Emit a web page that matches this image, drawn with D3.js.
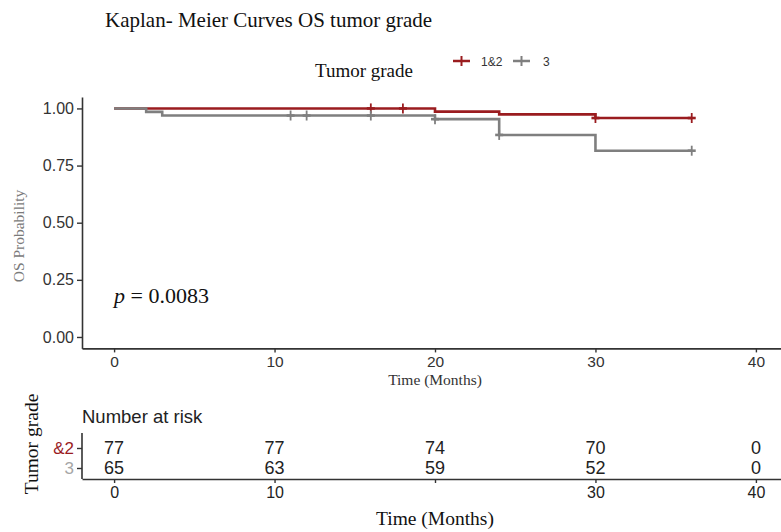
<!DOCTYPE html>
<html>
<head>
<meta charset="utf-8">
<script src="https://cdn.jsdelivr.net/npm/d3@7"></script>
<style>
  html, body { margin: 0; padding: 0; background: #fff; }
  svg { display: block; }
</style>
</head>
<body>
<svg id="chart" width="781" height="532"></svg>
<script>
// ---------------- data ----------------
const strata = ["1&2", "3"];
const strataColors = ["#9a1c1f", "#7f7f7f"];
// step curve: times of steps and survival after the step
const timesA = [0, 20, 24, 30, 36];
const survA  = [1, 0.986, 0.974, 0.958, 0.958];
const censorTimesA = [16, 18, 30, 36];
const timesB = [0, 2, 3, 20, 24, 30, 36];
const survB  = [1, 0.985, 0.969, 0.953, 0.884, 0.815, 0.815];
const censorTimesB = [11, 12, 16, 20, 24, 36];
const xTicks = [0, 10, 20, 30, 40];
const yTicks = [0, 0.25, 0.5, 0.75, 1];
const riskA = [77, 77, 74, 70, 0];
const riskB = [65, 63, 59, 52, 0];
const riskTickLabels = ["0", "10", "", "30", "40"];
const pText = "0.0083";

const svg = d3.select("#chart");
const serif = "'Liberation Serif', 'Times New Roman', serif";
const sans = "'Liberation Sans', Arial, sans-serif";
const axisColor = "#333";

// ---------------- scales ----------------
const x = d3.scaleLinear().domain([-2, 42]).range([82, 788]);
const y = d3.scaleLinear().domain([-0.05, 1.05]).range([348.4, 97]);

// title
svg.append("text").attr("x", 105).attr("y", 27)
  .attr("font-family", serif).attr("font-size", 21).attr("fill", "#111")
  .text("Kaplan- Meier Curves OS tumor grade");

// legend
svg.append("text").attr("x", 315).attr("y", 77)
  .attr("font-family", serif).attr("font-size", 19).attr("fill", "#111")
  .text("Tumor grade");
const legendItems = [{x: 453, tx: 481}, {x: 513, tx: 543}];
strata.forEach((s, i) => {
  const g = svg.append("g");
  g.append("line").attr("x1", legendItems[i].x).attr("x2", legendItems[i].x + 17)
    .attr("y1", 61).attr("y2", 61).attr("stroke", strataColors[i]).attr("stroke-width", 2.5);
  g.append("line").attr("x1", legendItems[i].x + 8.5).attr("x2", legendItems[i].x + 8.5)
    .attr("y1", 56).attr("y2", 66).attr("stroke", strataColors[i]).attr("stroke-width", 2);
  g.append("text").attr("x", legendItems[i].tx).attr("y", 65.5)
    .attr("font-family", sans).attr("font-size", 12).attr("fill", "#333").text(s);
});

// ---------------- main axes ----------------
const yAxis = d3.axisLeft(y).tickValues(yTicks).tickFormat(d3.format(".2f"))
  .tickSize(5).tickSizeOuter(0).tickPadding(3);
const gy = svg.append("g").attr("transform", "translate(82,0)").call(yAxis);
gy.select(".domain").attr("stroke", axisColor).attr("stroke-width", 1.6);
gy.selectAll(".tick line").attr("stroke", axisColor).attr("stroke-width", 1.4);
gy.selectAll(".tick text").attr("font-family", sans).attr("font-size", 16).attr("fill", "#333");

const xAxis = d3.axisBottom(x).tickValues(xTicks).tickSize(4).tickSizeOuter(0).tickPadding(4);
const gx = svg.append("g").attr("transform", "translate(0,348.4)").call(xAxis);
gx.select(".domain").attr("stroke", axisColor).attr("stroke-width", 1.6);
gx.selectAll(".tick line").attr("stroke", axisColor).attr("stroke-width", 1.4);
gx.selectAll(".tick text").attr("font-family", sans).attr("font-size", 15.5).attr("fill", "#333");

svg.append("text").attr("x", x(20)).attr("y", 385).attr("text-anchor", "middle")
  .attr("font-family", serif).attr("font-size", 15.5).attr("fill", "#333").text("Time (Months)");

svg.append("text").attr("transform", "translate(24,236) rotate(-90)")
  .attr("text-anchor", "middle").attr("font-family", serif).attr("font-size", 15.5)
  .attr("fill", "#7a7a7a").text("OS Probability");

// p-value
const pt = svg.append("text").attr("x", 114).attr("y", 303)
  .attr("font-family", serif).attr("font-size", 22).attr("fill", "#111");
pt.append("tspan").attr("font-style", "italic").text("p");
pt.append("tspan").text(" = " + pText);

// ---------------- curves ----------------
function stepPoints(times, surv) {
  return times.map((t, i) => [t, surv[i]]);
}
const line = d3.line().x(d => x(d[0])).y(d => y(d[1])).curve(d3.curveStepAfter);
const curves = [
  {pts: stepPoints(timesA, survA), times: timesA, surv: survA, cens: censorTimesA},
  {pts: stepPoints(timesB, survB), times: timesB, surv: survB, cens: censorTimesB}
];
function survAt(c, t) {
  let v = c.surv[0];
  c.times.forEach((tt, i) => { if (tt <= t) v = c.surv[i]; });
  return v;
}
curves.forEach((c, i) => {
  const g = svg.append("g");
  g.append("path").attr("d", line(c.pts)).attr("fill", "none")
    .attr("stroke", strataColors[i]).attr("stroke-width", 2.6);
  c.cens.forEach(t => {
    const cx = x(t), cy = y(survAt(c, t));
    g.append("line").attr("x1", cx).attr("x2", cx).attr("y1", cy - 5).attr("y2", cy + 5)
      .attr("stroke", strataColors[i]).attr("stroke-width", 1.8);
    g.append("line").attr("x1", cx - 4).attr("x2", cx + 4).attr("y1", cy).attr("y2", cy)
      .attr("stroke", strataColors[i]).attr("stroke-width", 2.6);
  });
});

// ---------------- risk table ----------------
svg.append("text").attr("x", 82).attr("y", 423)
  .attr("font-family", sans).attr("font-size", 18.5).attr("fill", "#222").text("Number at risk");

const yr = d3.scalePoint().domain(strata).range([448, 468]);
svg.append("defs").append("clipPath").attr("id", "rclip")
  .append("rect").attr("x", -29).attr("y", 425).attr("width", 40).attr("height", 60);
const gyr = svg.append("g").attr("transform", "translate(82,0)").attr("clip-path", "url(#rclip)")
  .call(d3.axisLeft(yr).tickSize(5).tickSizeOuter(0).tickPadding(3));
gyr.select(".domain").attr("d", "M0,433V479").attr("stroke", axisColor).attr("stroke-width", 1.6);
gyr.selectAll(".tick line").attr("stroke", axisColor).attr("stroke-width", 1.4);
gyr.selectAll(".tick text").attr("font-family", sans).attr("font-size", 17)
  .attr("fill", (d, i) => i === 0 ? "#9a1c1f" : "#a6a6a6");

const risks = [riskA, riskB];
strata.forEach((s, i) => {
  svg.append("g").selectAll("text").data(risks[i]).join("text")
    .attr("x", (d, j) => x(xTicks[j])).attr("y", yr(s)).attr("dy", "0.35em")
    .attr("text-anchor", "middle").attr("font-family", sans).attr("font-size", 18)
    .attr("fill", "#222").text(d => d);
});

const gxr = svg.append("g").attr("transform", "translate(0,479)")
  .call(d3.axisBottom(x).tickValues(xTicks).tickFormat((d, i) => riskTickLabels[i])
    .tickSize(4).tickSizeOuter(0).tickPadding(4));
gxr.select(".domain").attr("stroke", axisColor).attr("stroke-width", 1.6);
gxr.selectAll(".tick line").attr("stroke", axisColor).attr("stroke-width", 1.4);
gxr.selectAll(".tick text").attr("font-family", sans).attr("font-size", 16).attr("fill", "#222");

svg.append("text").attr("x", x(20)).attr("y", 525).attr("text-anchor", "middle")
  .attr("font-family", serif).attr("font-size", 19.5).attr("fill", "#111").text("Time (Months)");

svg.append("text").attr("transform", "translate(38,444) rotate(-90)")
  .attr("text-anchor", "middle").attr("font-family", serif).attr("font-size", 19.5)
  .attr("fill", "#111").text("Tumor grade");
</script>
</body>
</html>
